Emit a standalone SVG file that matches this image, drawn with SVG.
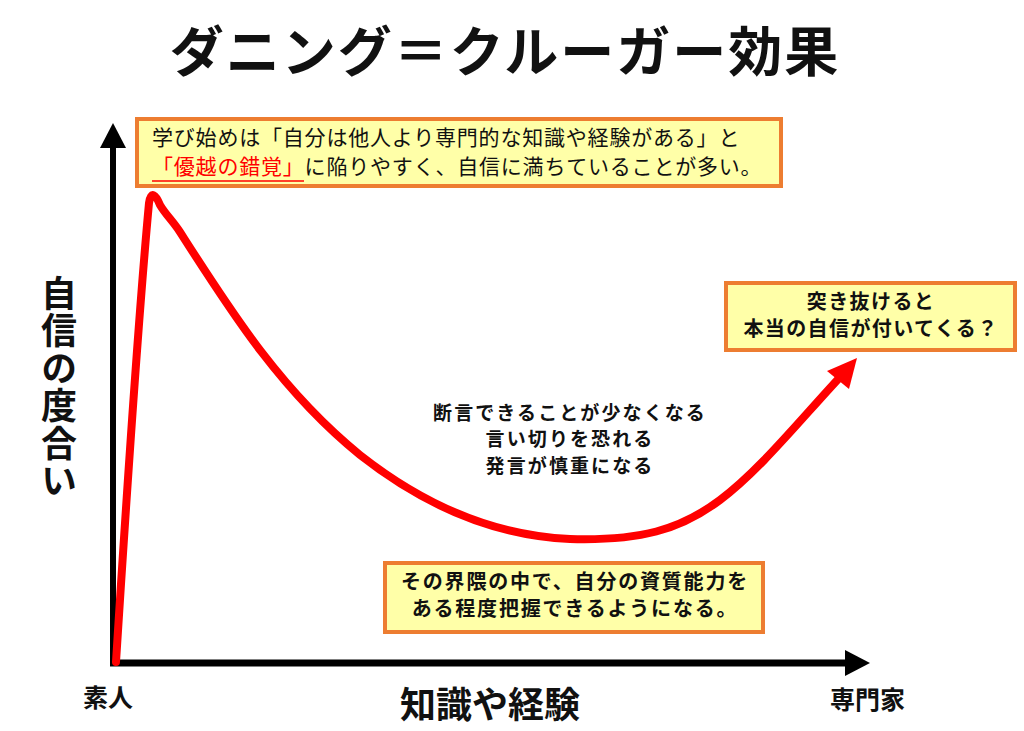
<svg xmlns="http://www.w3.org/2000/svg" width="1024" height="731" viewBox="0 0 1024 731">
<style>
text{font-family:"Noto Sans CJK JP","Noto Sans CJK SC",sans-serif;fill:#111}
.title{font-size:54px;font-weight:700;letter-spacing:2px}
.box{fill:#FFFFA8;stroke:#ED7D31;stroke-width:4}
.t1{font-size:21px;font-weight:400;letter-spacing:0.8px}
.t2{font-size:20px;font-weight:700;letter-spacing:1.4px}
.t3{font-size:20px;font-weight:700;letter-spacing:1.8px}
.mid{font-size:19px;font-weight:700;letter-spacing:2.1px}
.ax{font-size:36px;font-weight:700}
.vert{writing-mode:vertical-rl;letter-spacing:1.5px}
.lab{font-size:25px;font-weight:700}
.red{fill:#FF0000}
</style>
<rect width="1024" height="731" fill="#fff"/>
<g id="title"><text class="title" x="505" y="72" text-anchor="middle">ダニング＝クルーガー効果</text></g>
<g id="connectors">
  <line x1="113" y1="666" x2="113" y2="145" stroke="#000" stroke-width="6"/>
  <polygon points="113,123 100,148 126,148" fill="#000"/>
  <line x1="110" y1="663" x2="848" y2="663" stroke="#000" stroke-width="7"/>
  <polygon points="870,663 845,650 845,676" fill="#000"/>
  <path d="M116,662 C125,520 140,300 149,203 C151,190 156,195 160,205 C166,215 172,220 180,232 C230,310 280,390 360,455 C430,510 500,536 570,539 C640,541 680,530 720,500 C760,470 800,420 842,375" fill="none" stroke="#FF0000" stroke-width="8" stroke-linecap="round" stroke-linejoin="round"/>
  <polygon points="857,358 827,371 849,389" fill="#FF0000"/>
</g>
<g id="yaxis-label"><text class="ax vert" x="59" y="275">自信の度合い</text></g>
<g id="xaxis-label"><text class="ax" x="490" y="718" text-anchor="middle">知識や経験</text></g>
<g id="start-label"><text class="lab" x="83" y="707">素人</text></g>
<g id="end-label"><text class="lab" x="830" y="709">専門家</text></g>
<g id="box-top">
  <rect class="box" x="137" y="119" width="644" height="67"/>
  <text class="t1" x="152" y="145">学び始めは「自分は他人より専門的な知識や経験がある」と</text>
  <text class="t1" x="152" y="174"><tspan class="red">「優越の錯覚」</tspan>に陥りやすく、自信に満ちていることが多い。</text>
  <line x1="152" y1="181" x2="304" y2="181" stroke="#FF0000" stroke-width="1.5"/>
</g>
<g id="box-right">
  <rect class="box" x="726" y="283" width="289" height="67"/>
  <text class="t2" x="871" y="309" text-anchor="middle">突き抜けると</text>
  <text class="t2" x="871" y="336" text-anchor="middle">本当の自信が付いてくる？</text>
</g>
<g id="middle-text">
  <text class="mid" x="570" y="419.5" text-anchor="middle">断言できることが少なくなる</text>
  <text class="mid" x="570" y="446" text-anchor="middle">言い切りを恐れる</text>
  <text class="mid" x="570" y="472.5" text-anchor="middle">発言が慎重になる</text>
</g>
<g id="box-bottom">
  <rect class="box" x="385" y="563" width="378" height="69"/>
  <text class="t3" x="575" y="589" text-anchor="middle">その界隈の中で、自分の資質能力を</text>
  <text class="t3" x="575" y="616" text-anchor="middle">ある程度把握できるようになる。</text>
</g>
</svg>
